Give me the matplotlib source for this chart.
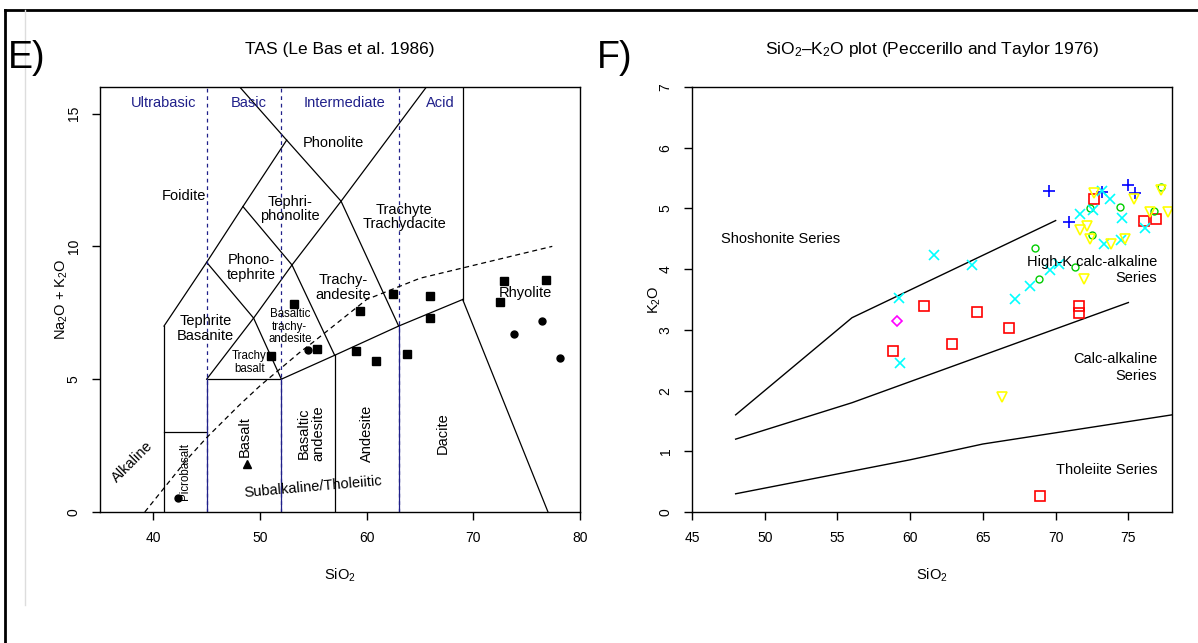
import matplotlib
matplotlib.use("Agg")
import matplotlib.pyplot as plt
from matplotlib.lines import Line2D

plt.rcParams['font.family'] = ['Liberation Sans', 'DejaVu Sans']
plt.rcParams['mathtext.fontset'] = 'custom'
plt.rcParams['mathtext.rm'] = 'Liberation Sans'
plt.rcParams['mathtext.it'] = 'Liberation Sans:italic'

# ---------------- TAS data ----------------
tas_sq_sio2 = [72.9, 76.8, 72.5, 62.5, 65.9, 65.9, 59.35, 53.2, 55.3, 51.0, 59.0, 60.9, 63.8]
tas_sq_alk = [8.68, 8.75, 7.9, 8.22, 8.12, 7.32, 7.56, 7.82, 6.15, 5.86, 6.06, 5.70, 5.95]
tas_ci_sio2 = [54.5, 76.4, 73.85, 78.15, 42.3]
tas_ci_alk = [6.09, 7.19, 6.70, 5.80, 0.51]
tas_tr_sio2 = [48.8]
tas_tr_alk = [1.8]

# TAS field boundaries (SiO2, Na2O+K2O)
tas_black_lines = [
    ([41, 41], [0, 7]),
    ([41, 45], [3, 3]),
    ([45, 52], [5, 5]),
    ([52, 57, 63, 69], [5, 5.9, 7, 8]),
    ([57, 57], [0, 5.9]),
    ([69, 69], [8, 16]),
    ([69, 77], [8, 0]),
    ([41, 45, 48.4, 52.5], [7, 9.4, 11.5, 14]),
    ([45, 49.4, 53, 57.6, 65.6], [5, 7.3, 9.3, 11.7, 16]),
    ([45, 49.4, 52], [9.4, 7.3, 5]),
    ([48.4, 53, 57], [11.5, 9.3, 5.9]),
    ([48.1, 52.5, 57.6, 63], [16, 14, 11.7, 7]),
]
tas_navy_lines = [
    ([45, 45], [0, 5]),
    ([52, 52], [0, 5]),
    ([63, 63], [0, 7]),
]
div_sio2 = [45, 52, 63]
ib_sio2 = [39.2, 40, 43.2, 45, 48, 50, 53.7, 55, 60, 65, 77.4]
ib_alk = [0, 0.4, 2, 2.8, 4, 4.75, 6, 6.4, 8, 8.8, 10]

# ---------------- SiO2-K2O data ----------------
sq_x = [72.66, 76.09, 76.89, 60.97, 64.56, 66.76, 71.63, 71.63, 62.87, 58.82, 68.95]
sq_y = [5.16, 4.79, 4.82, 3.39, 3.29, 3.03, 3.39, 3.28, 2.77, 2.66, 0.26]
ci_x = [68.6, 71.36, 68.88, 72.38, 72.5, 74.44, 76.73, 77.26]
ci_y = [4.35, 4.04, 3.83, 5.01, 4.56, 5.03, 4.96, 5.36]
pl_x = [69.57, 70.9, 73.2, 75.0, 75.43]
pl_y = [5.29, 4.78, 5.27, 5.38, 5.25]
xx_x = [61.63, 64.27, 59.23, 67.24, 68.27, 69.64, 70.2, 71.65, 72.54, 73.76, 74.56, 76.16, 73.35, 74.49, 59.28, 73.2]
xx_y = [4.23, 4.07, 3.53, 3.51, 3.72, 3.98, 4.08, 4.91, 4.98, 5.16, 4.85, 4.67, 4.42, 4.48, 2.45, 5.28]
di_x = [59.12]
di_y = [3.14]
tr_x = [72.62, 75.36, 77.24, 76.5, 77.7, 71.7, 72.16, 72.34, 73.83, 74.74, 71.93, 66.33]
tr_y = [5.25, 5.15, 5.30, 4.94, 4.94, 4.64, 4.71, 4.49, 4.42, 4.50, 3.83, 1.90]

shosh_x = [48, 56, 70]
shosh_y = [1.6, 3.2, 4.8]
hk_x = [48, 56, 75]
hk_y = [1.2, 1.8, 3.45]
th_x = [48, 60, 65, 78]
th_y = [0.3, 0.86, 1.12, 1.6]

W, H = 1198, 643
fig = plt.figure(figsize=(W / 100, H / 100), dpi=100)

def px_axes(l, t, r, b):
    return fig.add_axes([l / W, 1 - b / H, (r - l) / W, (b - t) / H])

axL = px_axes(100, 87, 580, 512)
axR = px_axes(692, 87, 1172, 512)

navy = '#20208a'

# ---- TAS ----
for xs, ys in tas_black_lines:
    axL.plot(xs, ys, color='black', lw=0.9)
for xs, ys in tas_navy_lines:
    axL.plot(xs, ys, color=navy, lw=0.9)
for xv in div_sio2:
    axL.plot([xv, xv], [0, 16], color=navy, lw=0.9, dashes=(3, 3))
axL.plot(ib_sio2, ib_alk, color='black', lw=0.9, dashes=(4, 3))

axL.plot(tas_sq_sio2, tas_sq_alk, 's', color='black', ms=6, ls='none')
axL.plot(tas_ci_sio2, tas_ci_alk, 'o', color='black', ms=5, ls='none')
axL.plot(tas_tr_sio2, tas_tr_alk, '^', color='black', ms=5.5, ls='none')

fs = 10.5
for s, x in [('Ultrabasic', 41.0), ('Basic', 48.9), ('Intermediate', 57.9), ('Acid', 66.9)]:
    axL.text(x, 15.4, s, color=navy, fontsize=fs, ha='center', va='center')

labels = [
    ('Phonolite', 56.9, 13.9, fs, 0),
    ('Foidite', 42.9, 11.9, fs, 0),
    ('Tephri-\nphonolite', 52.8, 11.4, fs, 0),
    ('Trachyte\nTrachydacite', 63.5, 11.1, fs, 0),
    ('Phono-\ntephrite', 49.2, 9.2, fs, 0),
    ('Trachy-\nandesite', 57.8, 8.45, fs, 0),
    ('Rhyolite', 74.85, 8.26, fs, 0),
    ('Tephrite\nBasanite', 44.9, 6.9, fs, 0),
    ('Basaltic\ntrachy-\nandesite', 52.8, 6.97, 8.3, 0),
    ('Trachy\nbasalt', 49.0, 5.63, 8.3, 0),
    ('Basalt', 48.6, 2.83, fs, 90),
    ('Basaltic\nandesite', 54.8, 2.96, fs, 90),
    ('Andesite', 60.0, 2.96, fs, 90),
    ('Dacite', 67.1, 2.98, fs, 90),
    ('Picrobasalt', 43.0, 1.52, 8.3, 90),
    ('Alkaline', 38.05, 1.89, fs, 45),
    ('Subalkaline/Tholeiitic', 55.0, 0.93, fs, 5),
]
for s, x, y, f, r in labels:
    axL.text(x, y, s, fontsize=f, ha='center', va='center', rotation=r,
             multialignment='center', linespacing=1.05)

axL.set_xlim(35, 80)
axL.set_ylim(0, 16)
axL.set_xticks([40, 50, 60, 70, 80])
axL.set_yticks([0, 5, 10, 15])
axL.set_xlabel('SiO$_2$', fontsize=10.5)
axL.set_ylabel('Na$_2$O + K$_2$O', fontsize=10.5)
axL.xaxis.set_label_coords(0.5, -(575 - 512) / 425, transform=axL.transAxes)
axL.yaxis.set_label_coords((62 - 100) / 480, 0.5, transform=axL.transAxes)
axL.xaxis.label.set_va('center')
axL.yaxis.label.set_va('center')
axL.set_title('TAS (Le Bas et al. 1986)', fontsize=12.5, pad=24)

# ---- SiO2-K2O ----
for xs, ys in [(shosh_x, shosh_y), (hk_x, hk_y), (th_x, th_y)]:
    axR.plot(xs, ys, color='black', lw=1.0)

axR.plot(sq_x, sq_y, 's', mfc='none', mec='#ff0000', mew=1.2, ms=6.5, ls='none')
axR.plot(ci_x, ci_y, 'o', mfc='none', mec='#00cd00', mew=1.0, ms=5, ls='none')
axR.plot(pl_x, pl_y, '+', color='#0000ff', mew=1.2, ms=9, ls='none')
axR.plot(xx_x, xx_y, 'x', color='#00ffff', mew=1.2, ms=7, ls='none')
axR.plot(di_x, di_y, 'D', mfc='none', mec='#ff00ff', mew=1.2, ms=5.5, ls='none')
axR.plot(tr_x, tr_y, 'v', mfc='none', mec='#ffff00', mew=1.2, ms=7.5, ls='none')

axR.text(51.1, 4.49, 'Shoshonite Series', fontsize=fs, ha='center', va='center')
axR.text(77.0, 3.98, 'High-K calc-alkaline\nSeries', fontsize=fs, ha='right', va='center',
         multialignment='right', linespacing=1.2)
axR.text(77.0, 2.38, 'Calc-alkaline\nSeries', fontsize=fs, ha='right', va='center',
         multialignment='right', linespacing=1.2)
axR.text(77.0, 0.69, 'Tholeiite Series', fontsize=fs, ha='right', va='center')

axR.set_xlim(45, 78)
axR.set_ylim(0, 7)
axR.set_xticks([45, 50, 55, 60, 65, 70, 75])
axR.set_yticks(range(0, 8))
axR.set_xlabel('SiO$_2$', fontsize=10.5)
axR.set_ylabel('K$_2$O', fontsize=10.5)
axR.xaxis.set_label_coords(0.5, -(575 - 512) / 425, transform=axR.transAxes)
axR.yaxis.set_label_coords((655 - 692) / 480, 0.5, transform=axR.transAxes)
axR.xaxis.label.set_va('center')
axR.yaxis.label.set_va('center')
axR.set_title('SiO$_2$\u2013K$_2$O plot (Peccerillo and Taylor 1976)', fontsize=12.5, pad=24)

for ax in (axL, axR):
    ax.tick_params(direction='out', length=6, width=1, labelsize=10, pad=8)
    for lab in ax.get_yticklabels():
        lab.set_rotation(90)
        lab.set_va('center')
    for sp in ax.spines.values():
        sp.set_linewidth(1)

fig.text(8 / W, 1 - 58 / H, 'E)', fontsize=27, ha='left', va='center')
fig.text(597 / W, 1 - 58 / H, 'F)', fontsize=27, ha='left', va='center')

fig.add_artist(Line2D([5 / W, 5 / W], [0, 1 - 10 / H], transform=fig.transFigure, color='black', lw=2))
fig.add_artist(Line2D([5 / W, 1], [1 - 10 / H, 1 - 10 / H], transform=fig.transFigure, color='black', lw=2))
fig.add_artist(Line2D([25 / W, 25 / W], [1 - 605 / H, 1 - 10 / H], transform=fig.transFigure, color='#dddddd', lw=1))

fig.savefig('out.png', dpi=100, facecolor='white')
